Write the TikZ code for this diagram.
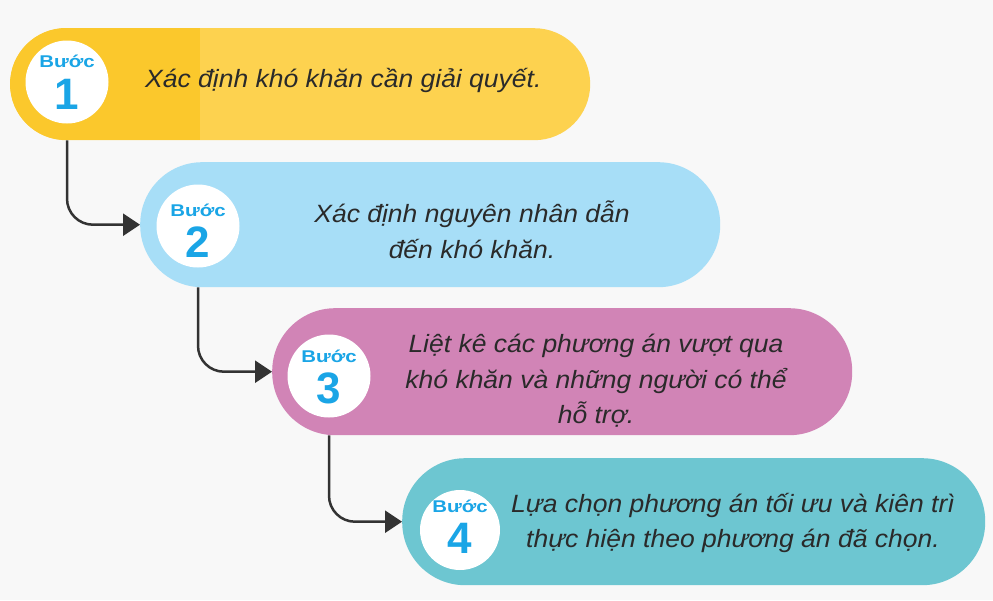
\documentclass[tikz,border=0pt]{standalone}
\usepackage{fontspec}
\setmainfont{Liberation Sans}
\newfontfamily\stepfont[FakeStretch=1.06]{Liberation Sans}
\newfontfamily\badgefont[FakeStretch=1.2]{Liberation Sans}
\usetikzlibrary{arrows.meta}
\definecolor{bg}{HTML}{F8F8F8}
\definecolor{cyel}{HTML}{FDD24F}
\definecolor{cyeld}{HTML}{FBC82C}
\definecolor{cblue}{HTML}{A7DEF7}
\definecolor{cpink}{HTML}{D184B6}
\definecolor{cteal}{HTML}{6DC6D1}
\definecolor{cnum}{HTML}{1AA5E6}
\definecolor{ctxt}{HTML}{2A2A2A}
\definecolor{carr}{HTML}{333333}
\tikzset{
  pill/.style={draw=none, rectangle, rounded corners=#1, inner sep=0pt},
  badge/.style={circle, fill=white, draw=none, minimum size=83pt, inner sep=0pt},
  steptxt/.style={text=ctxt, font=\stepfont\fontsize{25}{35.5}\selectfont\itshape, align=center, inner sep=0pt},
  buoc/.style={text=cnum, font=\badgefont\fontsize{17}{17}\selectfont\bfseries, inner sep=0pt},
  digit/.style={text=cnum, font=\fontsize{44}{44}\selectfont\bfseries, inner sep=0pt},
  conn/.style={draw=carr, line width=2.5pt, rounded corners=26pt, -{Triangle[length=17pt,width=22pt]}}
}
\begin{document}
\begin{tikzpicture}[x=1pt,y=-1pt]
\useasboundingbox (0,0) rectangle (993,600);
\fill[bg] (0,0) rectangle (993,600);
% box 1
\node[pill=56pt, fill=cyel, minimum width=580pt, minimum height=112pt, anchor=north west] (b1) at (10,28) {};
\begin{scope}
\clip[rounded corners=56pt] (10,28) rectangle (590,140);
\fill[cyeld] (10,28) rectangle (200,140);
\end{scope}
\node[badge] (c1) at (67,82) {};
\node[buoc] (w1) at (67,61) {Bước};
\node[digit] (n1) at (67,94) {1};
\node[steptxt, anchor=west] (t1) at (145,80) {Xác định khó khăn cần giải quyết.};
% box 2
\node[pill=62pt, fill=cblue, minimum width=580pt, minimum height=125pt, anchor=north west] (b2) at (140,162) {};
\node[badge] (c2) at (198,226) {};
\node[buoc] (w2) at (198,210) {Bước};
\node[digit] (n2) at (198,242) {2};
\node[steptxt] (t2) at (472,230) {Xác định nguyên nhân dẫn\\đến khó khăn.};
% box 3
\node[pill=63pt, fill=cpink, minimum width=580pt, minimum height=127pt, anchor=north west] (b3) at (272,308) {};
\node[badge] (c3) at (329,376) {};
\node[buoc] (w3) at (329,356) {Bước};
\node[digit] (n3) at (329,388) {3};
\node[steptxt] (t3) at (596,381) {Liệt kê các phương án vượt qua\\khó khăn và những người có thể\\hỗ trợ.};
% box 4
\node[pill=63pt, fill=cteal, minimum width=583pt, minimum height=127pt, anchor=north west] (b4) at (402,458) {};
\node[badge, minimum size=80pt] (c4) at (460,530) {};
\node[buoc] (w4) at (460,506) {Bước};
\node[digit] (n4) at (460,538) {4};
\node[steptxt] (t4) at (733,523) {Lựa chọn phương án tối ưu và kiên trì\\thực hiện theo phương án đã chọn.};
% connectors
\draw[conn] (c1 |- b1.south) |- (b2.west);
\draw[conn] (c2 |- b2.south) |- (b3.west);
\draw[conn] (c3 |- b3.south) |- (b4.west);
\end{tikzpicture}
\end{document}
